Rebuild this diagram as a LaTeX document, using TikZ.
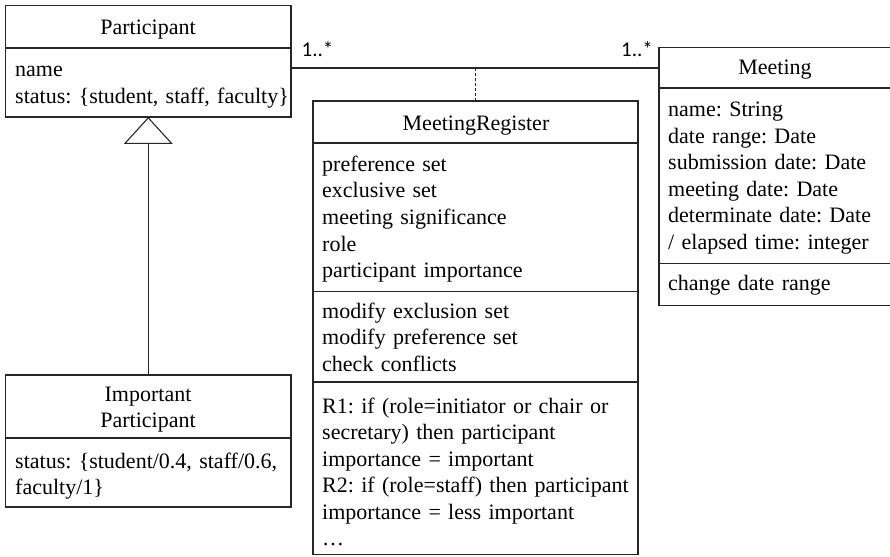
\documentclass[tikz,border=0pt]{standalone}
\usepackage{fontspec}
\setmainfont{Liberation Serif}
\newfontfamily\multfont{Carlito}
\usetikzlibrary{arrows.meta}
\frenchspacing

\tikzset{
	umlbox/.style={draw=black!85,line width=1.1pt,inner sep=0pt,outer sep=0pt,anchor=north west},
	umlrule/.style={draw=black!85,line width=1.1pt},
	umltitle/.style={anchor=base,inner sep=0pt,text width=270pt,align=center,font=\fontsize{22}{26}\selectfont},
	umltext/.style={anchor=base west,inner sep=0pt,text width=320pt,align=left,font=\fontsize{22}{26.5}\selectfont},
	multlabel/.style={anchor=base west,inner sep=0pt,font=\multfont\fontsize{21}{24}\selectfont},
}

\begin{document}
\begin{tikzpicture}[x=1pt,y=-1pt]
	\useasboundingbox (0,0) rectangle (890,556);
	% class boxes
	\node[umlbox,minimum width=285.5pt,minimum height=111.5pt] (participant) at (5.5,5.5) {};
	\node[umlbox,minimum width=285.5pt,minimum height=132pt] (important) at (5.5,375) {};
	\node[umlbox,minimum width=325pt,minimum height=453.5pt] (register) at (313,101) {};
	\node[umlbox,minimum width=238pt,minimum height=258pt] (meeting) at (659,47.5) {};
	% compartments
	\draw[umlrule] (participant.west |- 0,48) -- (participant.east |- 0,48);
	\draw[umlrule] (important.west |- 0,438) -- (important.east |- 0,438);
	\draw[umlrule] (register.west |- 0,143) -- (register.east |- 0,143);
	\draw[umlrule] (register.west |- 0,291.5) -- (register.east |- 0,291.5);
	\draw[umlrule] (register.west |- 0,382) -- (register.east |- 0,382);
	\draw[umlrule] (meeting.west |- 0,88) -- (meeting.east |- 0,88);
	\draw[umlrule] (meeting.west |- 0,263.5) -- (meeting.east |- 0,263.5);
	% names and members
	\node[umltitle] (participant-name) at (148,35) {Participant};
	\node[umltext] (participant-attr) at (15,77) {name\\status: \{student, staff, faculty\}};
	\node[umltitle] (important-name) at (148,401.5) {Important\\Participant};
	\node[umltext] (important-attr) at (15,468) {status: \{student/0.4, staff/0.6,\\faculty/1\}};
	\node[umltitle] (register-name) at (476,130.5) {MeetingRegister};
	\node[umltext] (register-attr) at (322,171.5) {preference set\\exclusive set\\meeting significance\\role\\participant importance};
	\node[umltext] (register-op) at (322,318) {modify exclusion set\\modify preference set\\check conflicts};
	\node[umltext] (register-rule) at (322,413) {R1: if (role=initiator or chair or\\secretary) then participant\\importance = important\\R2: if (role=staff) then participant\\importance = less important\\\ldots};
	\node[umltitle] (meeting-name) at (775,75) {Meeting};
	\node[umltext] (meeting-attr) at (668,117) {name: String\\date range: Date\\submission date: Date\\meeting date: Date\\determinate date: Date\\/ elapsed time: integer};
	\node[umltext] (meeting-op) at (668,290) {change date range};
	% association, association class and generalisation
	\draw[umlrule] (participant.east |- 0,68) -- (meeting.west |- 0,68);
	\draw[umlrule,dash pattern=on 3pt off 2pt] (register.north |- 0,68) -- (register.north);
	\draw[umlrule,-{Triangle[open,length=27pt,width=49pt]}] (important.north) -- (participant.south);
	\node[multlabel] (mult-participant) at (301.5,57) {1..*};
	\node[multlabel] (mult-meeting) at (621,57) {1..*};
\end{tikzpicture}
\end{document}
